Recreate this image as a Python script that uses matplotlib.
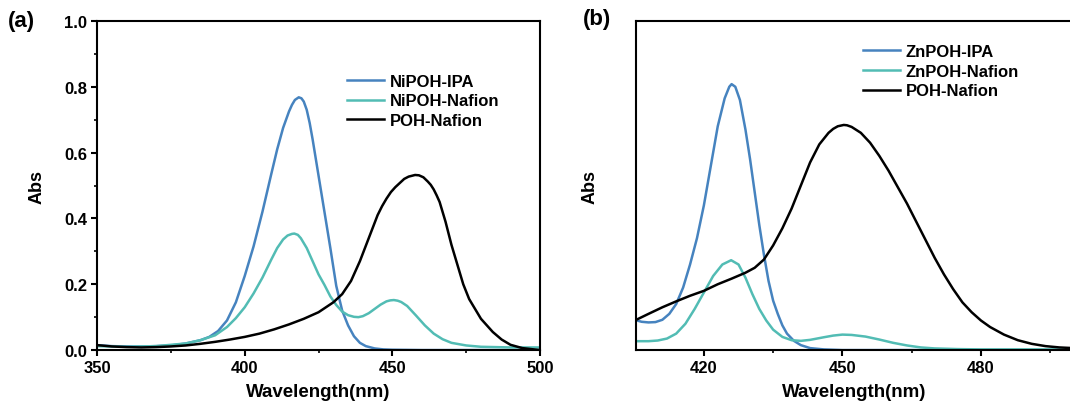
import matplotlib
matplotlib.use("Agg")
import matplotlib.pyplot as plt
from matplotlib.ticker import MultipleLocator

plt.rcParams['font.family'] = ['Liberation Sans', 'DejaVu Sans']
plt.rcParams['font.weight'] = 'bold'

# ---- panel (a) data ----
a_ipa_x = [350, 355, 360, 365, 370, 375, 380, 385, 388, 391, 394, 397, 400, 403, 406, 409, 411, 413, 415,
           416, 417, 418.3, 419.2, 420, 421, 422, 423, 425, 427, 429, 431, 433, 435, 437, 439, 441, 444,
           447, 450, 460, 500]
a_ipa_y = [0.015, 0.012, 0.011, 0.011, 0.012, 0.014, 0.02, 0.03, 0.04, 0.058, 0.09, 0.145, 0.225, 0.315,
           0.42, 0.535, 0.61, 0.675, 0.725, 0.745, 0.76, 0.768, 0.765, 0.755, 0.73, 0.69, 0.64, 0.53, 0.42,
           0.31, 0.195, 0.12, 0.075, 0.042, 0.022, 0.012, 0.005, 0.002, 0.001, 0.0, 0.0]

a_naf_x = [350, 360, 370, 380, 385, 390, 394, 397, 400, 403, 406, 409, 411, 413, 414.5, 416, 416.8, 418,
           419, 421, 423, 425, 427, 429, 431, 433, 435, 437, 438.5, 440, 442, 444, 446, 448, 449.3, 450.5,
           451.8, 453, 455, 458, 461, 464, 467, 470, 475, 480, 490, 500]
a_naf_y = [0.012, 0.01, 0.012, 0.02, 0.03, 0.045, 0.07, 0.097, 0.13, 0.172, 0.22, 0.275, 0.31, 0.336, 0.348,
           0.353, 0.354, 0.35, 0.34, 0.31, 0.27, 0.23, 0.198, 0.163, 0.137, 0.117, 0.106, 0.101, 0.1,
           0.103, 0.112, 0.125, 0.138, 0.148, 0.151, 0.152, 0.15, 0.146, 0.134, 0.105, 0.075, 0.05, 0.033,
           0.022, 0.014, 0.01, 0.008, 0.008]

a_poh_x = [350, 355, 360, 365, 370, 375, 380, 385, 390, 395, 400, 405, 410, 415, 420, 425, 430, 433, 436,
           439, 442, 443.5, 445, 446.5, 448, 449.5, 451, 454, 455.5, 457.7, 459, 460.5, 462, 463, 464, 465,
           466, 467, 468, 470, 472, 474, 476, 478, 480, 482, 484, 487, 490, 494, 500]
a_poh_y = [0.015, 0.011, 0.009, 0.008, 0.009, 0.011, 0.014, 0.019, 0.025, 0.032, 0.04, 0.05, 0.063, 0.078,
           0.095, 0.115, 0.145, 0.17, 0.21, 0.27, 0.34, 0.375, 0.41, 0.437, 0.46, 0.48, 0.495, 0.52, 0.527,
           0.532, 0.531, 0.525, 0.512, 0.502, 0.488, 0.47, 0.45, 0.42, 0.39, 0.32, 0.26, 0.2, 0.155, 0.125,
           0.095, 0.075, 0.055, 0.032, 0.016, 0.006, 0.0]

# ---- panel (b) data (arbitrary units) ----
b_ipa_x = [405.2, 406.5, 408, 409.5, 411, 412.5, 414, 415.5, 417, 418.5, 420, 421.5, 423, 424.5, 425.5, 426,
           426.8, 427.8, 429, 430, 431, 432, 433, 434, 435, 436, 437, 438, 439.5, 441, 443, 446, 450, 500]
b_ipa_y = [0.091, 0.086, 0.084, 0.085, 0.092, 0.11, 0.14, 0.19, 0.26, 0.34, 0.44, 0.56, 0.68, 0.765, 0.80,
           0.808, 0.80, 0.76, 0.67, 0.58, 0.48, 0.38, 0.29, 0.21, 0.15, 0.11, 0.075, 0.05, 0.028, 0.015,
           0.006, 0.002, 0.0, 0.0]

b_naf_x = [405.2, 408, 410, 412, 414, 416, 418, 420, 422, 424, 425.9, 427.5, 429, 430.5, 432, 433.5, 435,
           437, 439, 441, 443, 446, 448, 450, 452, 455, 458, 461, 464, 467, 470, 475, 480, 500]
b_naf_y = [0.027, 0.027, 0.029, 0.035, 0.05, 0.08, 0.125, 0.175, 0.225, 0.26, 0.273, 0.26, 0.22, 0.17, 0.125,
           0.09, 0.062, 0.04, 0.03, 0.028, 0.031, 0.039, 0.044, 0.047, 0.046, 0.041, 0.032, 0.022, 0.014,
           0.008, 0.005, 0.003, 0.002, 0.002]

b_poh_x = [405.2, 408, 411, 414, 417, 420, 423, 426, 429, 431, 433, 435, 437, 439, 441, 443, 445, 447, 448,
           449, 450.3, 451, 452, 454, 456, 458, 460, 462, 464, 466, 468, 470, 472, 474, 476, 478, 480, 482,
           485, 488, 491, 494, 497, 500]
b_poh_y = [0.091, 0.11, 0.13, 0.148, 0.165, 0.18, 0.2, 0.217, 0.235, 0.25, 0.275, 0.318, 0.37, 0.43, 0.5,
           0.57, 0.625, 0.66, 0.672, 0.68, 0.684, 0.683, 0.678, 0.66, 0.63, 0.59, 0.545, 0.495, 0.445,
           0.39, 0.335, 0.28, 0.23, 0.185, 0.145, 0.115, 0.09, 0.07, 0.047, 0.03, 0.019, 0.012, 0.008, 0.006]

blue = '#4683bf'
teal = '#52bcb4'

fig = plt.figure(figsize=(10.7, 4.14), dpi=100)
ax1 = fig.add_axes([0.0907, 0.152, 0.414, 0.795])
ax2 = fig.add_axes([0.594, 0.152, 0.409, 0.795])

lw = 1.8
ax1.plot(a_ipa_x, a_ipa_y, color=blue, lw=lw, label='NiPOH-IPA')
ax1.plot(a_naf_x, a_naf_y, color=teal, lw=lw, label='NiPOH-Nafion')
ax1.plot(a_poh_x, a_poh_y, color='black', lw=lw, label='POH-Nafion')
ax2.plot(b_ipa_x, b_ipa_y, color=blue, lw=lw, label='ZnPOH-IPA')
ax2.plot(b_naf_x, b_naf_y, color=teal, lw=lw, label='ZnPOH-Nafion')
ax2.plot(b_poh_x, b_poh_y, color='black', lw=lw, label='POH-Nafion')

ax1.set_xlim(350, 500)
ax1.set_ylim(0, 1.0)
ax1.xaxis.set_major_locator(MultipleLocator(50))
ax1.xaxis.set_minor_locator(MultipleLocator(25))
ax1.yaxis.set_major_locator(MultipleLocator(0.2))
ax1.yaxis.set_minor_locator(MultipleLocator(0.1))

ax2.set_xlim(405.2, 500)
ax2.set_ylim(0, 1.0)
ax2.xaxis.set_major_locator(MultipleLocator(30))
ax2.xaxis.set_minor_locator(MultipleLocator(15))
ax2.set_yticks([])

for ax in (ax1, ax2):
    for s in ax.spines.values():
        s.set_linewidth(1.5)
    ax.tick_params(which='major', direction='out', length=4, width=1.5, labelsize=12, pad=3)
    ax.tick_params(which='minor', direction='out', length=2.5, width=1.2)
    ax.set_xlabel('Wavelength(nm)', fontsize=13.5, fontweight='bold', labelpad=6)
    ax.set_ylabel('Abs', fontsize=13, fontweight='bold')
    for t in ax.get_xticklabels() + ax.get_yticklabels():
        t.set_fontweight('bold')

ax1.yaxis.set_label_coords(-0.117, 0.5)
ax2.yaxis.set_label_coords(-0.085, 0.5)

ax1.legend(loc='upper left', bbox_to_anchor=(0.55, 0.86), frameon=False, fontsize=12,
           handlelength=2.2, handletextpad=0.35, labelspacing=0.28, borderaxespad=0)
ax2.legend(loc='upper left', bbox_to_anchor=(0.505, 0.95), frameon=False, fontsize=12,
           handlelength=2.2, handletextpad=0.35, labelspacing=0.28, borderaxespad=0)

fig.text(0.007, 0.947, '(a)', fontsize=16, fontweight='bold', va='center', ha='left')
fig.text(0.545, 0.952, '(b)', fontsize=16, fontweight='bold', va='center', ha='left')

fig.savefig('out.png', dpi=100)
